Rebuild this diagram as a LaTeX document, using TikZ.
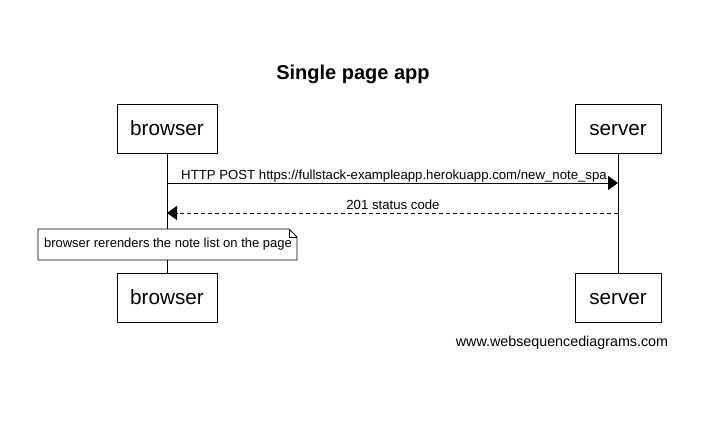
\documentclass[tikz,border=0pt]{standalone}
\usepackage{fontspec}
\setmainfont{Liberation Sans}
\usetikzlibrary{arrows.meta}
\begin{document}
\begin{tikzpicture}[x=1pt,y=-1pt,
  actor/.style={draw,line width=0.9pt,fill=white,minimum width=100pt,minimum height=49pt,inner sep=0pt,text height=17pt,text depth=2pt,font=\fontsize{20.7}{24}\selectfont},
  msg/.style={font=\fontsize{13.2}{15}\selectfont,inner sep=1pt,anchor=base},
  lifeline/.style={line width=0.9pt},
  arr/.style={line width=0.9pt,-{Triangle[length=10pt,width=14pt]}}]
\useasboundingbox (0,0) rectangle (702,422);
\fill[white] (0,0) rectangle (702,422);
\node[font=\bfseries\fontsize{20}{23}\selectfont] (title) at (353,74) {Single page app};
\node[actor] (b1) at (167,128.5) {browser};
\node[actor,minimum width=86pt] (s1) at (618,128.5) {server};
\node[actor] (b2) at (167,297.5) {browser};
\node[actor,minimum width=86pt] (s2) at (618,297.5) {server};
\draw[lifeline] (b1.south) -- (b2.north);
\draw[lifeline] (s1.south) -- (s2.north);
\coordinate (a1s) at (b1.south |- 0,183);
\coordinate (a1e) at (s1.south |- 0,183);
\draw[arr] (a1s) -- (a1e);
\node[msg] (m1) at (394,180) {HTTP POST https://fullstack-exampleapp.herokuapp.com/new\_note\_spa};
\coordinate (a2s) at (s1.south |- 0,213);
\coordinate (a2e) at (b1.south |- 0,213);
\draw[arr,dash pattern=on 4pt off 3pt] (a2s) -- (a2e);
\node[msg] (m2) at (393,210) {201 status code};
\draw[line width=0.9pt,fill=white] (38,229) -- (289,229) -- (297,237) -- (297,260) -- (38,260) -- cycle;
\draw[line width=0.6pt] (289,229) -- (289,237) -- (297,237);
\node[font=\fontsize{13}{15}\selectfont,anchor=base] (note) at (168,248) {browser rerenders the note list on the page};
\node[font=\fontsize{14.3}{16}\selectfont,anchor=base] (wsd) at (562,346) {www.websequencediagrams.com};
\end{tikzpicture}
\end{document}
